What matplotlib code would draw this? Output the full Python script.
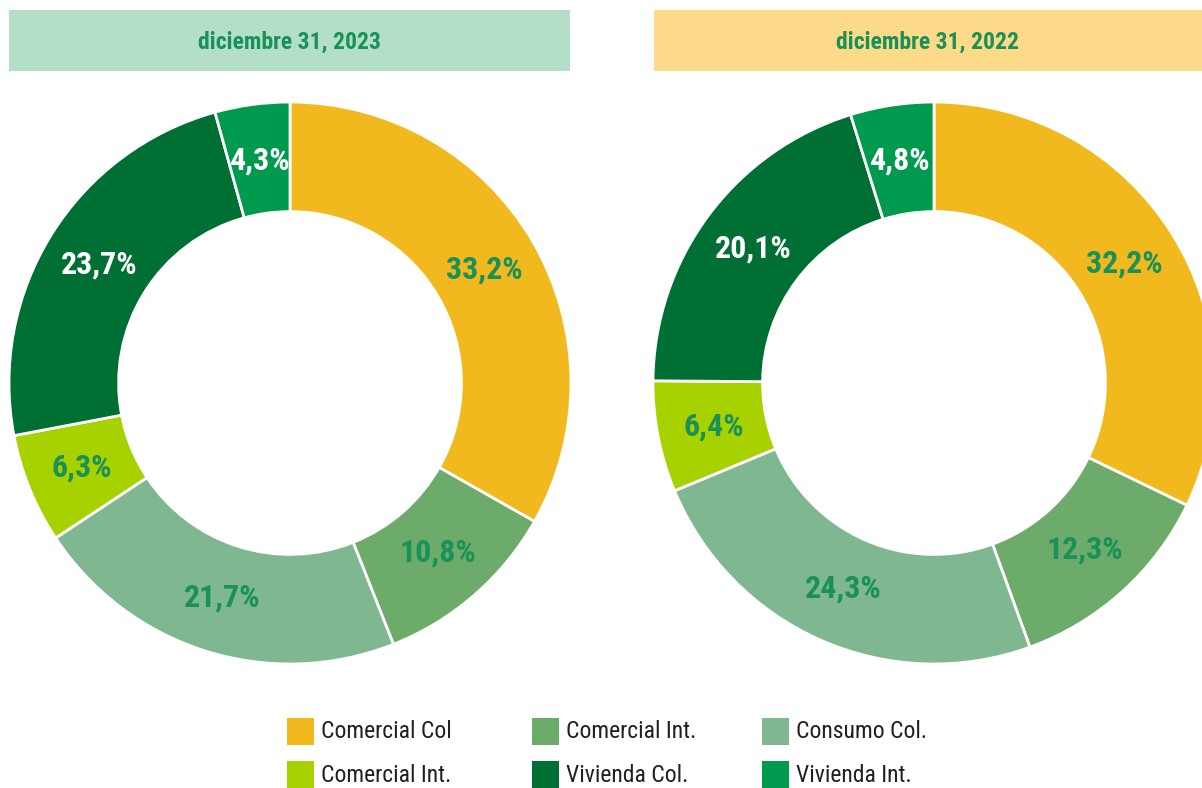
import matplotlib
matplotlib.use('Agg')
import matplotlib.pyplot as plt
from matplotlib.patches import Rectangle
from matplotlib import font_manager

# pick a condensed face if one is around, otherwise Roboto
names = {f.name for f in font_manager.fontManager.ttflist}
font = 'Roboto'
for cand in ['Roboto Condensed', 'Liberation Sans Narrow']:
    if cand in names:
        font = cand
        break
plt.rcParams['font.family'] = font

# data
categories = ['Comercial Col', 'Comercial Int.', 'Consumo Col.',
              'Comercial Int.', 'Vivienda Col.', 'Vivienda Int.']
values_2023 = [33.2, 10.8, 21.7, 6.3, 23.7, 4.3]
values_2022 = [32.2, 12.3, 24.3, 6.4, 20.1, 4.8]
titles = ['diciembre 31, 2023', 'diciembre 31, 2022']

colors = ['#f2b91f', '#6dab6b', '#7fb890', '#a8d100', '#006f33', '#009a4e']
label_colors = ['#1a9158', '#1a9158', '#1a9158', '#1a9158', 'white', 'white']
header_colors = ['#b3dfc9', '#fdd98a']
green_text = '#1a9158'

W, H = 1202, 788
fig = plt.figure(figsize=(W / 100, H / 100), dpi=100)

R = 281
centers = [(290, 383), (934, 383)]
header_boxes = [(9, 570), (654, 1202)]

for vals, title, (cx, cy), (hx0, hx1), hc in zip(
        [values_2023, values_2022], titles, centers, header_boxes, header_colors):
    ax = fig.add_axes([(cx - R) / W, (H - cy - R) / H, 2 * R / W, 2 * R / H])
    wedges, texts, autotexts = ax.pie(
        vals, colors=colors, startangle=90, counterclock=False, radius=1,
        autopct='%.1f', pctdistance=0.8,
        wedgeprops=dict(width=0.39, edgecolor='white', linewidth=2))
    for t, c, v in zip(autotexts, label_colors, vals):
        t.set_text(f'{v:.1f}%'.replace('.', ','))
        t.set_color(c)
        t.set_fontsize(23)
        t.set_fontweight('bold')
    ax.set_xlim(-1, 1)
    ax.set_ylim(-1, 1)
    ax.set_aspect('equal')
    ax.axis('off')

    # header box
    fig.patches.append(Rectangle((hx0 / W, 1 - 71 / H), (hx1 - hx0) / W, 61 / H,
                                 transform=fig.transFigure, facecolor=hc,
                                 edgecolor='none'))
    fig.text((hx0 + hx1) / 2 / W, 1 - 42 / H, title, ha='center', va='center',
             fontsize=17, fontweight='bold', color=green_text)

# legend
col_x = [287, 532, 762]
row_y = [732, 775]
for i, (cat, col) in enumerate(zip(categories, colors)):
    x = col_x[i % 3]
    y = row_y[i // 3]
    fig.patches.append(Rectangle((x / W, 1 - (y + 13) / H), 27 / W, 27 / H,
                                 transform=fig.transFigure, facecolor=col,
                                 edgecolor='none'))
    fig.text((x + 34) / W, 1 - y / H, cat, ha='left', va='center',
             fontsize=17, color='#231f20')

fig.savefig('out.png', dpi=100)
